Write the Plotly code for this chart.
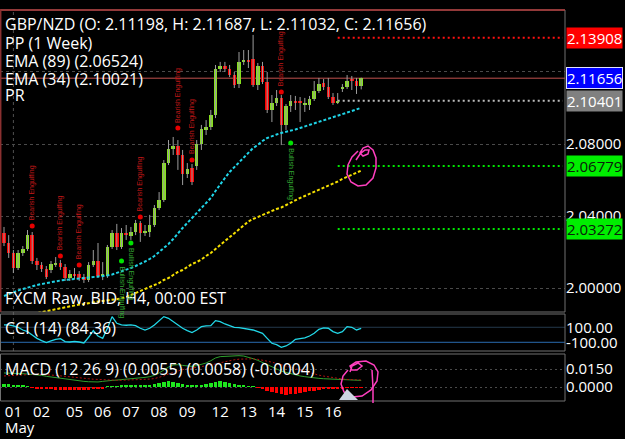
import plotly.graph_objects as go

# ---------------- data ----------------
OPEN = [2.0306, 2.0250, 2.0194, 2.0111, 2.0194, 2.0217, 2.0294, 2.0150, 2.0128, 2.0106,
        2.0100, 2.0133, 2.0139, 2.0117, 2.0056, 2.0078, 2.0078, 2.0061, 2.0044, 2.0128,
        2.0150, 2.0067, 2.0067, 2.0228, 2.0306, 2.0228, 2.0306, 2.0289, 2.0311, 2.0361,
        2.0306, 2.0311, 2.0350, 2.0444, 2.0489, 2.0694, 2.0772, 2.0789, 2.0739, 2.0633,
        2.0667, 2.0678, 2.0800, 2.0883, 2.0894, 2.0961, 2.1217, 2.1233, 2.1217, 2.1183,
        2.1133, 2.1256, 2.1267, 2.1272, 2.1128, 2.1233, 2.1144, 2.0989, 2.1028, 2.1056,
        2.0906, 2.1011, 2.1039, 2.1033, 2.1022, 2.1017, 2.1050, 2.1094, 2.1139, 2.1117,
        2.1061, 2.1028, 2.1106, 2.1117, 2.1156, 2.1150, 2.11198]
CLOSE = [2.0250, 2.0194, 2.0111, 2.0194, 2.0217, 2.0294, 2.0150, 2.0128, 2.0106, 2.0061,
         2.0133, 2.0139, 2.0117, 2.0056, 2.0078, 2.0072, 2.0056, 2.0044, 2.0128, 2.0150,
         2.0067, 2.0072, 2.0228, 2.0306, 2.0228, 2.0306, 2.0294, 2.0311, 2.0361, 2.0306,
         2.0311, 2.0350, 2.0444, 2.0489, 2.0694, 2.0772, 2.0789, 2.0739, 2.0633, 2.0661,
         2.0589, 2.0800, 2.0883, 2.0894, 2.0961, 2.1217, 2.1233, 2.1217, 2.1183, 2.1128,
         2.1256, 2.1267, 2.1261, 2.1128, 2.1233, 2.1144, 2.0989, 2.1028, 2.1056, 2.0906,
         2.1011, 2.1039, 2.1033, 2.1028, 2.1022, 2.1050, 2.1094, 2.1133, 2.1117, 2.1061,
         2.1028, 2.1028, 2.1117, 2.1150, 2.1150, 2.1122, 2.11656]
HIGH = [2.0339, 2.0294, 2.0211, 2.0211, 2.0233, 2.0322, 2.0311, 2.0167, 2.0144, 2.0122,
        2.0150, 2.0172, 2.0156, 2.0133, 2.0100, 2.0111, 2.0094, 2.0078, 2.0144, 2.0211,
        2.0250, 2.0144, 2.0239, 2.0322, 2.0356, 2.0333, 2.0350, 2.0339, 2.0378, 2.0372,
        2.0350, 2.0406, 2.0461, 2.0533, 2.0711, 2.0822, 2.0839, 2.0822, 2.0767, 2.0694,
        2.0689, 2.0822, 2.0906, 2.0933, 2.0989, 2.1239, 2.1256, 2.1256, 2.1239, 2.1200,
        2.1311, 2.1322, 2.1322, 2.1406, 2.1250, 2.1256, 2.1200, 2.1072, 2.1100, 2.1072,
        2.1022, 2.1072, 2.1067, 2.1061, 2.1056, 2.1067, 2.1150, 2.1167, 2.1161, 2.1167,
        2.1083, 2.1083, 2.1133, 2.1183, 2.1178, 2.1167, 2.11687]
LOW = [2.0233, 2.0167, 2.0083, 2.0100, 2.0178, 2.0206, 2.0133, 2.0100, 2.0089, 2.0050,
       2.0083, 2.0117, 2.0100, 2.0039, 2.0039, 2.0050, 2.0039, 2.0028, 2.0033, 2.0117,
       2.0056, 2.0044, 2.0056, 2.0217, 2.0211, 2.0217, 2.0267, 2.0267, 2.0294, 2.0256,
       2.0289, 2.0283, 2.0339, 2.0433, 2.0478, 2.0683, 2.0739, 2.0656, 2.0572, 2.0611,
       2.0572, 2.0656, 2.0767, 2.0850, 2.0878, 2.0944, 2.1200, 2.1200, 2.1172, 2.1111,
       2.1111, 2.1239, 2.1222, 2.1117, 2.1100, 2.1133, 2.0972, 2.0922, 2.1011, 2.0794,
       2.0878, 2.0978, 2.0989, 2.0922, 2.0978, 2.0989, 2.1039, 2.1083, 2.1100, 2.1050,
       2.1017, 2.1022, 2.1089, 2.1106, 2.1100, 2.1078, 2.11032]

EMA34 = [1.99556, 1.99667, 1.99778, 1.99861, 1.99944, 2.00028, 2.00111, 2.00167, 2.00222, 2.00278,
         2.00333, 2.00389, 2.00417, 2.00444, 2.00472, 2.00500, 2.00528, 2.00556, 2.00556, 2.00583,
         2.00611, 2.00639, 2.00694, 2.00750, 2.00833, 2.00917, 2.01000, 2.01111, 2.01222, 2.01333,
         2.01472, 2.01611, 2.01778, 2.02000, 2.02222, 2.02444, 2.02722, 2.03056, 2.03333, 2.03611,
         2.03889, 2.04167, 2.04444, 2.04722, 2.05000, 2.05389, 2.05778, 2.06111, 2.06444, 2.06722,
         2.07000, 2.07278, 2.07556, 2.07778, 2.07944, 2.08167, 2.08333, 2.08444, 2.08528, 2.08611,
         2.08667, 2.08722, 2.08806, 2.08889, 2.08972, 2.09056, 2.09139, 2.09222, 2.09306, 2.09389,
         2.09472, 2.09556, 2.09667, 2.09750, 2.09833, 2.09917, 2.10021]
EMA89 = [1.98111, 1.98194, 1.98278, 1.98333, 1.98444, 1.98500, 1.98556, 1.98611, 1.98667, 1.98722,
         1.98778, 1.98833, 1.98889, 1.98944, 1.99000, 1.99056, 1.99083, 1.99111, 1.99167, 1.99222,
         1.99250, 1.99278, 1.99306, 1.99333, 1.99361, 1.99417, 1.99500, 1.99611, 1.99722, 1.99833,
         1.99944, 2.00056, 2.00167, 2.00278, 2.00444, 2.00556, 2.00722, 2.00889, 2.01000, 2.01167,
         2.01333, 2.01444, 2.01583, 2.01778, 2.01944, 2.02167, 2.02389, 2.02611, 2.02833, 2.03056,
         2.03278, 2.03500, 2.03694, 2.03833, 2.03944, 2.04083, 2.04194, 2.04278, 2.04389, 2.04472,
         2.04611, 2.04722, 2.04861, 2.05000, 2.05111, 2.05222, 2.05333, 2.05444, 2.05556, 2.05667,
         2.05778, 2.05917, 2.06056, 2.06167, 2.06278, 2.06389, 2.06524]

CCI = [131, 131, 118, 100, 64, 42, -2, -47, -78, -104,
       -82, -60, -51, -91, -96, -87, -96, -109, -33, 56,
       -16, -47, 87, 242, 153, 131, 127, 131, 122, 87,
       64, 87, 131, 189, 242, 220, 176, 131, 87, 56,
       29, 64, 109, 118, 122, 189, 176, 144, 118, 100,
       96, 87, 82, 64, 42, 20, -47, -113, -131, -167,
       -149, -113, -60, -47, -42, -16, 20, 73, 91, 87,
       42, 20, 42, 109, 100, 64, 84.36]

MACD = [0.0117, 0.0117, 0.0114, 0.0111, 0.0111, 0.0108, 0.0106, 0.0103, 0.0097, 0.0089,
        0.0083, 0.0078, 0.0072, 0.0067, 0.0064, 0.0058, 0.0053, 0.0047, 0.0044, 0.0042,
        0.0042, 0.0047, 0.0053, 0.0055, 0.0058, 0.0061, 0.0064, 0.0067, 0.0069, 0.0075,
        0.0080, 0.0086, 0.0097, 0.0117, 0.0144, 0.0166, 0.0183, 0.0186, 0.0180, 0.0178,
        0.0172, 0.0178, 0.0189, 0.0200, 0.0219, 0.0242, 0.0253, 0.0255, 0.0258, 0.0261,
        0.0261, 0.0258, 0.0250, 0.0236, 0.0222, 0.0205, 0.0186, 0.0166, 0.0150, 0.0133,
        0.0122, 0.0111, 0.0100, 0.0092, 0.0086, 0.0080, 0.0075, 0.0072, 0.0069, 0.0067,
        0.0064, 0.0061, 0.0058, 0.0057, 0.0055, 0.0055, 0.0055]
SIGNAL = [0.0092, 0.0095, 0.0097, 0.0098, 0.0100, 0.0103, 0.0105, 0.0106, 0.0105, 0.0103,
          0.0100, 0.0097, 0.0093, 0.0090, 0.0086, 0.0082, 0.0078, 0.0073, 0.0069, 0.0065,
          0.0062, 0.0060, 0.0058, 0.0057, 0.0056, 0.0056, 0.0057, 0.0058, 0.0059, 0.0061,
          0.0063, 0.0066, 0.0070, 0.0080, 0.0092, 0.0108, 0.0122, 0.0135, 0.0145, 0.0152,
          0.0157, 0.0162, 0.0168, 0.0175, 0.0183, 0.0193, 0.0203, 0.0212, 0.0220, 0.0227,
          0.0232, 0.0235, 0.0236, 0.0235, 0.0231, 0.0225, 0.0217, 0.0207, 0.0196, 0.0185,
          0.0174, 0.0160, 0.0148, 0.0137, 0.0127, 0.0117, 0.0107, 0.0099, 0.0091, 0.0084,
          0.0078, 0.0072, 0.0067, 0.0063, 0.0060, 0.0059, 0.0058]
HIST = [0.0025, 0.0022, 0.0018, 0.0015, 0.0012, 0.0003, -0.0003, -0.0010, -0.0015, -0.0018,
        -0.0020, -0.0022, -0.0024, -0.0025, -0.0026, -0.0026, -0.0025, -0.0024, -0.0022, -0.0018,
        -0.0014, -0.0010, 0.0004, 0.0006, 0.0008, 0.0009, 0.0010, 0.0011, 0.0012, 0.0013,
        0.0014, 0.0016, 0.0025, 0.0035, 0.0045, 0.0048, 0.0044, 0.0035, 0.0022, 0.0014,
        0.0012, 0.0014, 0.0018, 0.0025, 0.0035, 0.0044, 0.0046, 0.0042, 0.0034, 0.0026,
        0.0020, 0.0014, 0.0008, 0.0003, -0.0006, -0.0015, -0.0030, -0.0042, -0.0052, -0.0062,
        -0.0064, -0.0060, -0.0055, -0.0048, -0.0042, -0.0036, -0.0030, -0.0024, -0.0020, -0.0016,
        -0.0014, -0.0012, -0.0010, -0.0008, -0.0006, -0.0005, -0.0004]

BEAR_IDX = [6, 12, 16, 29, 37, 40, 59]
BEAR_PRICE = [2.0344, 2.0178, 2.0128, 2.0394, 2.0889, 2.0711, 2.1089]
BULL_IDX = [25, 27, 61]
BULL_PRICE = [2.0150, 2.0250, 2.0806]

PP_START_IDX = 71
PP_LEVELS = [2.13908, 2.10401, 2.06779, 2.03272]
PRICE_TICKS = [2.00, 2.04, 2.08, 2.12]
CCI_TICKS = [100, -100]
MACD_TICKS = [0.015, 0.0]

DATE_TICK_IDX = [2, 8, 15, 21, 27, 33, 39, 46, 52, 58, 64, 70]
DATE_TICK_TEXT = ["01", "02", "05", "06", "07", "08", "09", "12", "13", "14", "15", "16"]
MONTH_TEXT = "May"

# ---------------- styling / geometry ----------------
W, H = 625, 439
FONT = "Open Sans"


def px(x):
    return x / W


def py(y):
    return 1 - y / H


idx = list(range(len(OPEN)))
X_RANGE = [-0.851, 119.36]
X_DOM = [0, 565 / W]
MAIN_DOM = [py(312), py(10)]
CCI_DOM = [py(351), py(314)]
MACD_DOM = [py(401), py(354)]

GREEN = "#86e01e"
RED = "#ff0000"

fig = go.Figure()

# wicks
wx, wy = [], []
for i, h, l in zip(idx, HIGH, LOW):
    wx += [i, i, None]
    wy += [l, h, None]
fig.add_trace(go.Scatter(x=wx, y=wy, mode="lines", line=dict(color="#9c9c9c", width=1),
                         hoverinfo="skip", xaxis="x", yaxis="y"))
# bodies
base = [min(o, c) for o, c in zip(OPEN, CLOSE)]
hgt = [max(abs(c - o), 0.0006) for o, c in zip(OPEN, CLOSE)]
cols = [GREEN if c >= o else RED for o, c in zip(OPEN, CLOSE)]
fig.add_trace(go.Bar(x=idx, y=hgt, base=base, marker=dict(color=cols, line=dict(width=0)),
                     width=0.74, xaxis="x", yaxis="y"))
# EMAs
fig.add_trace(go.Scatter(x=idx, y=EMA89, mode="lines", line=dict(color="#f5e000", width=2, dash="3px,2px"),
                         xaxis="x", yaxis="y"))
fig.add_trace(go.Scatter(x=idx, y=EMA34, mode="lines", line=dict(color="#1fd3e6", width=2, dash="3px,2px"),
                         xaxis="x", yaxis="y"))
# pattern dots
fig.add_trace(go.Scatter(x=BEAR_IDX, y=BEAR_PRICE, mode="markers",
                         marker=dict(color="#e80000", size=5), xaxis="x", yaxis="y"))
fig.add_trace(go.Scatter(x=BULL_IDX, y=BULL_PRICE, mode="markers",
                         marker=dict(color="#00e400", size=5), xaxis="x", yaxis="y"))
# CCI
fig.add_trace(go.Scatter(x=idx, y=CCI, mode="lines", line=dict(color="#22d8e8", width=1.3),
                         xaxis="x2", yaxis="y2"))
# MACD
hcols = ["#1ee61e" if v >= 0 else RED for v in HIST]
fig.add_trace(go.Bar(x=idx, y=HIST, marker=dict(color=hcols, line=dict(width=0)), width=0.74,
                     xaxis="x3", yaxis="y3"))
fig.add_trace(go.Scatter(x=idx, y=MACD, mode="lines", line=dict(color="#2ea02e", width=1),
                         xaxis="x3", yaxis="y3"))
fig.add_trace(go.Scatter(x=idx, y=SIGNAL, mode="lines", line=dict(color="#b01010", width=1, dash="2px,2px"),
                         xaxis="x3", yaxis="y3"))

shapes = []
# vertical grid line
shapes.append(dict(type="line", xref="x", yref="paper", x0=DATE_TICK_IDX[0], x1=DATE_TICK_IDX[0],
                   y0=CCI_DOM[0], y1=MAIN_DOM[1], line=dict(color="#505050", width=1, dash="3px,3px"),
                   layer="below"))
# CCI levels
shapes.append(dict(type="line", xref="paper", yref="y2", x0=0, x1=X_DOM[1], y0=100, y1=100,
                   line=dict(color="#24384c", width=1), layer="below"))
shapes.append(dict(type="line", xref="paper", yref="y2", x0=0, x1=X_DOM[1], y0=-100, y1=-100,
                   line=dict(color="#2a6cb0", width=1), layer="below"))
# current price line
shapes.append(dict(type="line", xref="paper", yref="y", x0=0, x1=X_DOM[1], y0=CLOSE[-1], y1=CLOSE[-1],
                   line=dict(color="#c0504d", width=1), layer="below"))
# pivot levels
pp_cols = ["#ff1010", "#bdbdbd", "#00e600", "#00e600"]
for lv, c in zip(PP_LEVELS, pp_cols):
    shapes.append(dict(type="line", xref="x", yref="y", x0=PP_START_IDX, x1=118.9, y0=lv, y1=lv,
                       line=dict(color=c, width=2, dash="2px,3px"), layer="below"))
# panel borders
for top, bot in [(10, 312), (314, 351), (354, 401)]:
    shapes.append(dict(type="rect", xref="paper", yref="paper", x0=px(0.5), x1=px(565), y0=py(bot), y1=py(top),
                       line=dict(color="#707070", width=1), fillcolor="rgba(0,0,0,0)"))
shapes.append(dict(type="line", xref="paper", yref="paper", x0=0, x1=px(565), y0=py(10), y1=py(10),
                   line=dict(color="#b03a3a", width=1.5)))
shapes.append(dict(type="line", xref="paper", yref="paper", x0=px(0.7), x1=px(0.7), y0=py(312), y1=py(10),
                   line=dict(color="#8a3030", width=1.5)))

# hand drawn marks (pixels)
def path_from(points, close=False):
    s = "M " + " L ".join(f"{px(x):.5f},{py(y):.5f}" for x, y in points)
    return s + (" Z" if close else "")

loop1 = [(356, 160), (360, 154), (365, 150), (369, 150), (368, 154), (363, 156), (360, 153), (363, 148),
         (368, 146), (373, 150), (376, 158), (376, 168), (373, 178), (366, 185), (358, 186),
         (351, 182), (347, 174), (348, 165), (352, 157), (358, 151)]
shapes.append(dict(type="path", xref="paper", yref="paper", path=path_from(loop1),
                   line=dict(color="#ff3fbf", width=1.5)))
loop2 = [(350, 372), (352, 366), (358, 363), (362, 366), (357, 370), (352, 370), (350, 366),
         (356, 362), (366, 361), (374, 365), (378, 372), (377, 381), (371, 390), (362, 396),
         (352, 397), (344, 392), (341, 384), (343, 376), (348, 370)]
shapes.append(dict(type="path", xref="paper", yref="paper", path=path_from(loop2),
                   line=dict(color="#ff3fbf", width=1.5)))
shapes.append(dict(type="path", xref="paper", yref="paper", path=path_from([(372, 370), (373, 388), (373, 403)]),
                   line=dict(color="#ff3fbf", width=1.5)))
shapes.append(dict(type="path", xref="paper", yref="paper", path=path_from([(339, 400), (347, 389), (358, 400)], True),
                   line=dict(width=0), fillcolor="#cdd5e3"))

ann = []
def left_text(t, y, size=16):
    ann.append(dict(text=t, xref="paper", yref="paper", x=px(3), y=py(y), xanchor="left", yanchor="middle",
                    showarrow=False, font=dict(family=FONT, size=size, color="white")))

left_text(f"GBP/NZD (O: {OPEN[-1]:.5f}, H: {HIGH[-1]:.5f}, L: {LOW[-1]:.5f}, C: {CLOSE[-1]:.5f})", 24)
left_text("PP (1 Week)", 43)
left_text(f"EMA (89) ({EMA89[-1]:.5f})", 61)
left_text(f"EMA (34) ({EMA34[-1]:.5f})", 79)
left_text("PR", 95)
left_text("FXCM Raw, BID, H4, 00:00 EST", 298)
left_text(f"CCI (14) ({CCI[-1]:.2f})", 328)
left_text(f"MACD (12 26 9) ({MACD[-1]:.4f}) ({SIGNAL[-1]:.4f}) ({HIST[-1]:.4f})", 369)
left_text(MONTH_TEXT, 427, 15)

# price boxes
boxes = [(PP_LEVELS[0], "#ff0000", "white", None),
         (CLOSE[-1], "#0000ff", "white", "#e0e0ff"),
         (PP_LEVELS[1], "#808080", "white", None),
         (PP_LEVELS[2], "#00ee00", "#0a200a", None),
         (PP_LEVELS[3], "#00ee00", "#0a200a", None)]
for v, bg, fc, bc in boxes:
    d = dict(text=f"{v:.5f}", xref="paper", yref="y", x=px(566), y=v, xanchor="left", yanchor="middle",
             showarrow=False, bgcolor=bg, borderpad=0, font=dict(family=FONT, size=15, color=fc))
    if bc:
        d.update(bordercolor=bc, borderwidth=1)
    ann.append(d)

# pattern labels
for i, p in zip(BEAR_IDX, BEAR_PRICE):
    ann.append(dict(text="Bearish Engulfing", x=i, y=p, xref="x", yref="y", textangle=-90, showarrow=False,
                    yshift=33, xanchor="center", yanchor="middle",
                    font=dict(family="Liberation Sans", size=7, color="#c01818")))
for i, p in zip(BULL_IDX, BULL_PRICE):
    ann.append(dict(text="Bullish Engulfing", x=i, y=p, xref="x", yref="y", textangle=90, showarrow=False,
                    yshift=-31, xanchor="center", yanchor="middle",
                    font=dict(family="Liberation Sans", size=7, color="#33a833")))

axis_common = dict(range=X_RANGE, domain=X_DOM, showgrid=False, zeroline=False, showline=False,
                   fixedrange=True)
tickfont = dict(family=FONT, size=15, color="white")

fig.update_layout(
    width=W, height=H, autosize=False,
    margin=dict(l=0, r=0, t=0, b=0),
    paper_bgcolor="black", plot_bgcolor="black",
    showlegend=False, barmode="overlay", bargap=0,
    xaxis=dict(anchor="y", showticklabels=False, ticks="", **axis_common),
    xaxis2=dict(anchor="y2", showticklabels=False, ticks="", **axis_common),
    xaxis3=dict(anchor="y3", tickmode="array", tickvals=DATE_TICK_IDX, ticktext=DATE_TICK_TEXT, ticks="",
                tickfont=dict(family=FONT, size=15, color="white"), **axis_common),
    yaxis=dict(domain=MAIN_DOM, range=[1.98667, 2.15444], anchor="x", side="right", tickmode="array",
               tickvals=PRICE_TICKS, ticktext=[f"{t:.5f}" for t in PRICE_TICKS], tickfont=tickfont,
               showgrid=True, gridcolor="#4a4a4a", griddash="3px,3px", gridwidth=1, zeroline=False,
               showline=False, ticks="", fixedrange=True),
    yaxis2=dict(domain=CCI_DOM, range=[-216, 277], anchor="x2", side="right", tickmode="array",
                tickvals=CCI_TICKS, ticktext=[f"{t:.2f}" for t in CCI_TICKS], tickfont=tickfont,
                showgrid=False, zeroline=False, showline=False, ticks="", fixedrange=True),
    yaxis3=dict(domain=MACD_DOM, range=[-0.01167, 0.0275], anchor="x3", side="right", tickmode="array",
                tickvals=MACD_TICKS, ticktext=[f"{t:.4f}" for t in MACD_TICKS], tickfont=tickfont,
                showgrid=True, gridcolor="#4a4a4a", griddash="2px,3px", zeroline=False, showline=False,
                ticks="", fixedrange=True),
    shapes=shapes, annotations=ann,
)

fig.write_html("out.html", config={"displayModeBar": False})
